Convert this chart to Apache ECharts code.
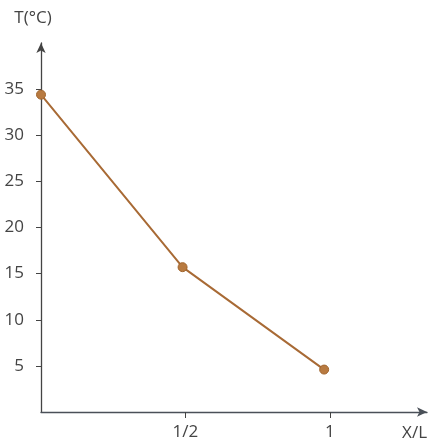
<!DOCTYPE html>
<html><head><meta charset="utf-8">
<script src="https://cdn.jsdelivr.net/npm/echarts@6/dist/echarts.min.js"></script>
<style>html,body{margin:0;padding:0;background:#fff}#c{width:431px;height:443px}</style>
</head><body><div id="c"></div>
<script>
const xValues = [0, 0.49, 0.98];
const temps = [34.4, 15.7, 4.6];
const yTicks = [5, 10, 15, 20, 25, 30, 35];
const xTicks = [0.5, 1];
const xTickLabels = ['1/2', '1'];
const yName = 'T(°C)';
const xName = 'X/L';

const chart = echarts.init(document.getElementById('c'), null, {renderer: 'canvas'});
const font = 'Open Sans';
chart.setOption({
  animation: false,
  grid: {left: 41, right: 4, top: 43, bottom: 31, containLabel: false},
  xAxis: {
    type: 'value', min: 0, max: 1.336,
    name: xName, nameLocation: 'end', nameGap: 0,
    nameTextStyle: {color: '#444', fontFamily: font, fontSize: 17, align: 'right', verticalAlign: 'top', padding: [13, 0, 0, 0]},
    axisLine: {show: true, lineStyle: {color: '#4a5058', width: 1.3}, symbol: ['none', 'arrow'], symbolSize: [7, 10]},
    axisTick: {show: true, length: 6, inside: false, customValues: xTicks, lineStyle: {color: '#444'}},
    axisLabel: {show: true, customValues: xTicks, margin: 12, color: '#444', fontFamily: font, fontSize: 17,
      formatter: v => { const i = xTicks.indexOf(v); return i >= 0 ? xTickLabels[i] : ''; }},
    splitLine: {show: false}
  },
  yAxis: {
    type: 'value', min: 0, max: 40, interval: 5,
    name: yName, nameLocation: 'end', nameGap: 16,
    nameTextStyle: {color: '#444', fontFamily: font, fontSize: 17, align: 'center', padding: [0, 16, 0, 0]},
    axisLine: {show: true, lineStyle: {color: '#444', width: 1.3}, symbol: ['none', 'arrow'], symbolSize: [7, 10]},
    axisTick: {show: true, length: 5, inside: false, customValues: yTicks, lineStyle: {color: '#444'}},
    axisLabel: {show: true, customValues: yTicks, margin: 17, color: '#444', fontFamily: font, fontSize: 17},
    splitLine: {show: false}
  },
  series: [{
    type: 'line',
    data: xValues.map((x, i) => [x, temps[i]]),
    symbol: 'circle', symbolSize: 9,
    lineStyle: {color: '#a86a35', width: 2},
    itemStyle: {color: '#b87a40', borderColor: '#a0642c', borderWidth: 1}
  }]
});
</script></body></html>
